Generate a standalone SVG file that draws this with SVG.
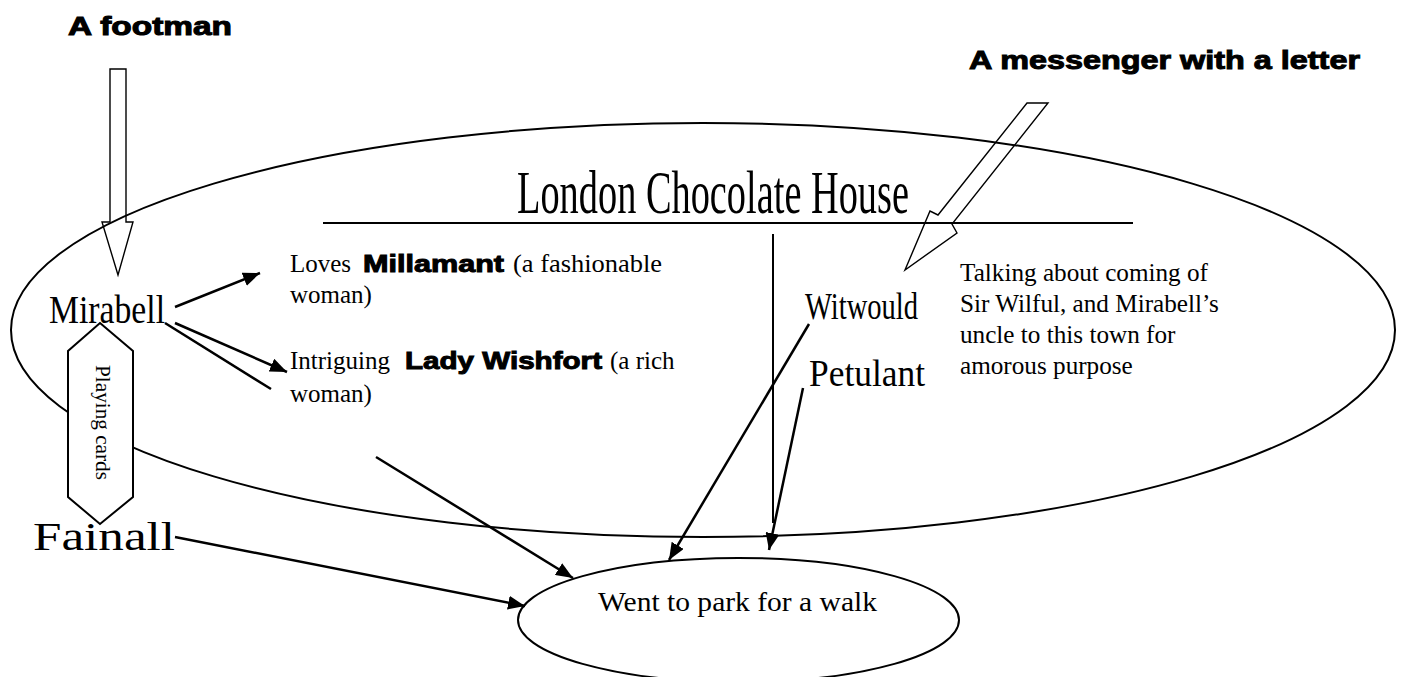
<svg xmlns="http://www.w3.org/2000/svg" width="1405" height="677" viewBox="0 0 1405 677">
<style>
.serif{font-family:"Liberation Serif","Times New Roman",serif;fill:#000}
.heavy{font-family:"Liberation Sans",Arial,sans-serif;font-weight:bold;fill:#000;stroke:#000;stroke-width:1}
.outline{fill:none;stroke:#000;stroke-width:2}
.conn{fill:none;stroke:#000;stroke-width:2.5}
.block{fill:none;stroke:#000;stroke-width:1.4}
</style>
<defs>
<marker id="ah" markerUnits="userSpaceOnUse" markerWidth="18" markerHeight="14" refX="17" refY="7" orient="auto">
<path d="M0,0 L17,7 L0,14 z" fill="#000"/>
</marker>
</defs>
<rect width="1405" height="677" fill="#fff"/>

<g id="chocolate-house">
<ellipse class="outline" cx="703" cy="330" rx="692" ry="207"/>
<text class="serif" x="517" y="213" font-size="62" textLength="392" lengthAdjust="spacingAndGlyphs">London Chocolate House</text>
<line class="outline" x1="323" y1="223" x2="1133" y2="223"/>
</g>

<g id="footman">
<text class="heavy" x="68" y="35" font-size="25" textLength="164" lengthAdjust="spacingAndGlyphs">A footman</text>
<polygon class="block" points="110,69 126,69 126,222 133,222 118,275 102,222 110,222"/>
</g>

<g id="messenger">
<text class="heavy" x="969" y="69" font-size="26" textLength="391" lengthAdjust="spacingAndGlyphs">A messenger with a letter</text>
<polygon class="block" points="1027,103 1048,103 952,224 957,233 905,270 930,211 938,215"/>
</g>

<g id="mirabell">
<text class="serif" x="49" y="323" font-size="40" textLength="116" lengthAdjust="spacingAndGlyphs">Mirabell</text>
</g>

<g id="playing-cards">
<polygon points="100,323 133,351 133,497 100,524 68,497 68,351" fill="#fff" stroke="#000" stroke-width="2"/>
<text class="serif" font-size="21" transform="translate(96,365) rotate(90)" textLength="115" lengthAdjust="spacingAndGlyphs">Playing cards</text>
</g>

<g id="fainall">
<text class="serif" x="33" y="550" font-size="39" textLength="142" lengthAdjust="spacingAndGlyphs">Fainall</text>
</g>

<g id="millamant">
<text class="serif" font-size="25" y="272"><tspan x="290">Loves</tspan><tspan class="heavy" x="363" font-size="24" textLength="141" lengthAdjust="spacingAndGlyphs" stroke-width="0.8">Millamant</tspan><tspan x="513" textLength="149" lengthAdjust="spacingAndGlyphs">(a fashionable</tspan></text>
<text class="serif" font-size="25" x="290" y="303">woman)</text>
</g>

<g id="wishfort">
<text class="serif" font-size="25" y="369"><tspan x="290">Intriguing</tspan><tspan class="heavy" x="405" font-size="24" textLength="197" lengthAdjust="spacingAndGlyphs" stroke-width="0.8">Lady Wishfort</tspan><tspan x="610">(a rich</tspan></text>
<text class="serif" font-size="25" x="290" y="402">woman)</text>
</g>

<g id="witwould">
<text class="serif" x="805" y="319" font-size="38" textLength="113" lengthAdjust="spacingAndGlyphs">Witwould</text>
</g>

<g id="petulant">
<text class="serif" x="809" y="386" font-size="38" textLength="116" lengthAdjust="spacingAndGlyphs">Petulant</text>
</g>

<g id="talking">
<text class="serif" font-size="25.2">
<tspan x="960" y="281">Talking about coming of</tspan>
<tspan x="960" y="312">Sir Wilful, and Mirabell’s</tspan>
<tspan x="960" y="343">uncle to this town for</tspan>
<tspan x="960" y="374">amorous purpose</tspan>
</text>
</g>

<g id="park">
<ellipse class="outline" cx="738.5" cy="620" rx="220.5" ry="62"/>
<text class="serif" x="598" y="611" font-size="27" textLength="279" lengthAdjust="spacingAndGlyphs">Went to park for a walk</text>
</g>

<g id="connectors">
<line class="conn" x1="175" y1="307" x2="260" y2="273" marker-end="url(#ah)"/>
<line class="conn" x1="175" y1="323" x2="287" y2="372" marker-end="url(#ah)"/>
<line class="conn" x1="165" y1="323" x2="271" y2="389"/>
<line class="conn" x1="376" y1="457" x2="573" y2="578" marker-end="url(#ah)"/>
<line class="conn" x1="175" y1="537" x2="525" y2="606" marker-end="url(#ah)"/>
<line class="conn" x1="809" y1="324" x2="669" y2="560" marker-end="url(#ah)"/>
<line class="conn" x1="803" y1="388" x2="769" y2="550" marker-end="url(#ah)"/>
<line class="outline" x1="773" y1="234" x2="773" y2="523"/>
</g>
</svg>
